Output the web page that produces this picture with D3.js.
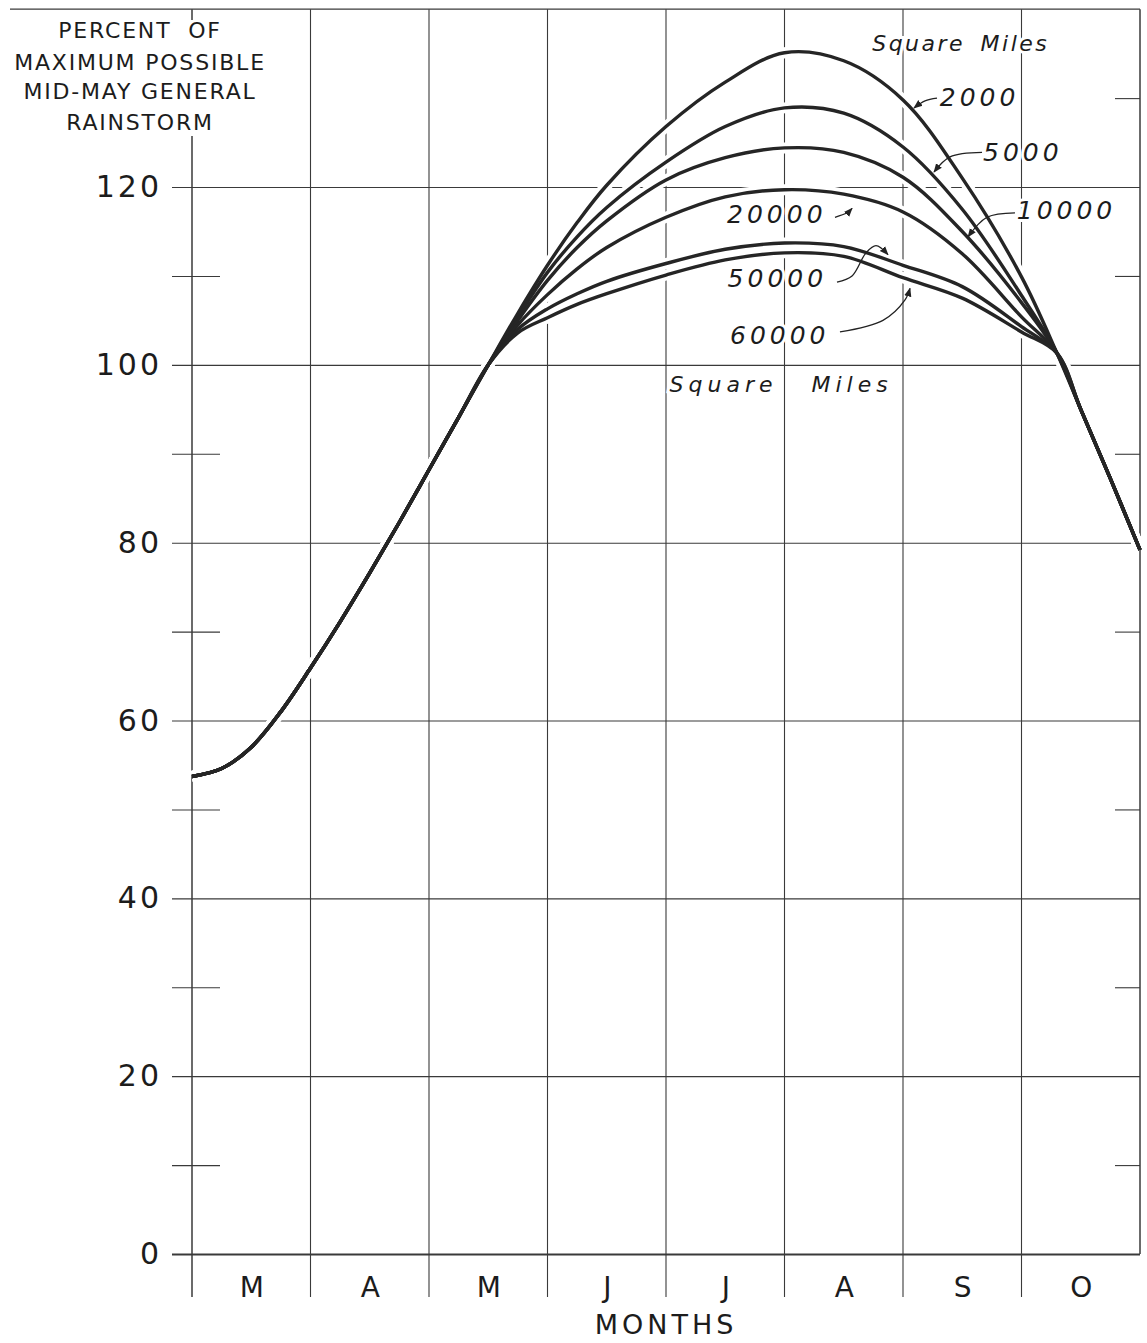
<!DOCTYPE html>
<html>
<head>
<meta charset="utf-8">
<script src="https://cdn.jsdelivr.net/npm/d3@7"></script>
<style>
  body { margin: 0; background: #fff; }
  svg text { font-family: "DejaVu Sans", sans-serif; fill: #1c1c1c; }
</style>
</head>
<body>
<div id="chart"></div>
<script>
// month letters, x position is months counted from 1 March
const months = ["M", "A", "M", "J", "J", "A", "S", "O"];
const yTicks = [0, 20, 40, 60, 80, 100, 120];
const yMinor = [10, 30, 50, 70, 90, 110, 130];

// rising limb common to every area
const riseX = [0, 0.25, 0.5, 0.75, 1, 1.25, 1.5, 1.75, 2, 2.25];
const riseY = [53.7, 54.6, 57.0, 61.0, 65.9, 71.1, 76.6, 82.3, 88.2, 94.1];

// part where the area curves separate
const splitX = [2.5, 2.75, 3, 3.25, 3.5, 4, 4.5, 5, 5.5, 6, 6.5, 7, 7.3];
const areas = ["2000", "5000", "10000", "20000", "50000", "60000"];
const pct2000  = [100, 105.8, 111.2, 116.0, 120.2, 126.8, 131.8, 135.1, 134.2, 129.8, 121.0, 109.9, 101.3];
const pct5000  = [100, 105.4, 110.4, 114.4, 117.7, 122.8, 126.8, 128.9, 128.3, 124.5, 117.5, 107.8, 101.3];
const pct10000 = [100, 105.0, 109.5, 113.2, 116.2, 120.8, 123.3, 124.4, 123.9, 121.1, 115.0, 107.0, 101.3];
const pct20000 = [100, 104.5, 107.9, 110.8, 113.2, 116.6, 118.9, 119.7, 119.2, 117.2, 112.5, 105.4, 101.3];
const pct50000 = [100, 104.0, 106.3, 108.0, 109.4, 111.4, 113.0, 113.7, 113.3, 111.2, 108.8, 104.3, 101.3];
const pct60000 = [100, 103.6, 105.3, 106.8, 108.0, 110.1, 111.8, 112.6, 112.2, 109.8, 107.5, 103.7, 101.3];

// falling limb common to every area
const fallX = [7.5, 7.75, 8];
const fallY = [95.0, 87.2, 79.2];

// curve labels (month, percent) and their leader arrows
const labelAt = {
  "2000":  [6.31, 129.1], "5000": [6.675, 122.95], "10000": [6.96, 116.4],
  "20000": [4.515, 115.9], "50000": [4.52, 108.8], "60000": [4.54, 102.4]
};
const arrows = [
  [[6.287, 130.0], [6.186, 129.7], [6.093, 128.9]],
  [[6.667, 123.9], [6.397, 123.4], [6.262, 121.7]],
  [[6.945, 117.1], [6.709, 116.6], [6.549, 114.4]],
  [[5.426, 116.6], [5.527, 117.1], [5.570, 117.6]],
  [[5.443, 109.3], [5.570, 110.0], [5.688, 112.6], [5.772, 113.4], [5.873, 112.4]],
  [[5.468, 103.7], [5.831, 105.0], [6.017, 107.3], [6.059, 108.6]]
];
const unitTop = [5.74, 135.3];
const unitBottom = [4.03, 97.0];

const seriesValues = [pct2000, pct5000, pct10000, pct20000, pct50000, pct60000];

const width = 1147, height = 1343;
const x = d3.scaleLinear().domain([0, 8]).range([192, 1140]);
const y = d3.scaleLinear().domain([0, 140]).range([1254, 9.2]);

const svg = d3.select("#chart").append("svg")
  .attr("width", width)
  .attr("height", height)
  .attr("viewBox", [0, 0, width, height]);

const gridColor = "#3a3a3a";

// horizontal grid + tick labels
const yAxis = svg.append("g")
  .attr("transform", `translate(${x(8)},0)`)
  .call(d3.axisLeft(y).tickValues(yTicks).tickSize(x(8) - x(0) + 20).tickPadding(10))
  .call(g => g.select(".domain").remove());
yAxis.selectAll("line").attr("stroke", gridColor).attr("stroke-width", d => d === 0 ? 2 : 1.1);
yAxis.selectAll("text")
  .attr("font-size", 30)
  .attr("font-family", "DejaVu Sans")
  .attr("letter-spacing", 3)
  .attr("fill", "#1c1c1c");

// minor ticks at the ten-percent marks, both edges
svg.append("g")
  .attr("transform", `translate(${x(0) + 28},0)`)
  .call(d3.axisLeft(y).tickValues(yMinor).tickSize(48).tickFormat(""))
  .call(g => g.select(".domain").remove())
  .selectAll("line").attr("stroke", gridColor).attr("stroke-width", 1.1);
svg.append("g")
  .attr("transform", `translate(${x(8)},0)`)
  .call(d3.axisLeft(y).tickValues(yMinor).tickSize(25).tickFormat(""))
  .call(g => g.select(".domain").remove())
  .selectAll("line").attr("stroke", gridColor).attr("stroke-width", 1.1);

// top border
svg.append("line")
  .attr("x1", 10).attr("x2", x(8))
  .attr("y1", y(140)).attr("y2", y(140))
  .attr("stroke", gridColor).attr("stroke-width", 1.3);

// vertical month dividers
svg.append("g").selectAll("line")
  .data(d3.range(9))
  .join("line")
  .attr("x1", d => x(d)).attr("x2", d => x(d))
  .attr("y1", y(140))
  .attr("y2", d => d === 8 ? y(0) : y(0) + 43)
  .attr("stroke", gridColor)
  .attr("stroke-width", d => d === 0 || d === 8 ? 1.5 : 1.1);

// month letters
const xAxis = svg.append("g")
  .attr("transform", `translate(0,${y(0)})`)
  .call(d3.axisBottom(x).tickValues(d3.range(8).map(i => i + 0.5))
    .tickSize(0).tickPadding(23).tickFormat((d, i) => months[i]))
  .call(g => g.select(".domain").remove());
xAxis.selectAll("text")
  .attr("font-size", 28)
  .attr("font-family", "DejaVu Sans")
  .attr("fill", "#1c1c1c");

svg.append("text")
  .attr("x", x(4)).attr("y", 1334)
  .attr("text-anchor", "middle")
  .attr("font-size", 27)
  .attr("letter-spacing", 4)
  .text("MONTHS");

// title block, blanks the axis line behind it
svg.append("rect")
  .attr("x", 0).attr("y", 20).attr("width", 285).attr("height", 116)
  .attr("fill", "#fff");
const titleLines = ["PERCENT OF", "MAXIMUM POSSIBLE", "MID-MAY GENERAL", "RAINSTORM"];
svg.append("g").selectAll("text")
  .data(titleLines)
  .join("text")
  .attr("x", 140)
  .attr("y", (d, i) => [38, 70, 99, 130][i])
  .attr("text-anchor", "middle")
  .attr("font-size", 22)
  .attr("letter-spacing", 1.8)
  .attr("word-spacing", (d, i) => i === 0 ? 8 : 0)
  .text(d => d);

// curves
const line = d3.line()
  .x(d => x(d[0]))
  .y(d => y(d[1]))
  .curve(d3.curveCatmullRom.alpha(0.5));

const curves = seriesValues.map(vals =>
  riseX.map((d, i) => [d, riseY[i]])
    .concat(splitX.map((d, i) => [d, vals[i]]))
    .concat(fallX.map((d, i) => [d, fallY[i]]))
);

svg.append("g").selectAll("path")
  .data(curves)
  .join("path")
  .attr("d", line)
  .attr("fill", "none")
  .attr("stroke", "#fff")
  .attr("stroke-width", 11);

svg.append("g").selectAll("path")
  .data(curves)
  .join("path")
  .attr("d", line)
  .attr("fill", "none")
  .attr("stroke", "#252525")
  .attr("stroke-width", 3.4)
  .attr("stroke-linejoin", "round");

// arrows
svg.append("defs").append("marker")
  .attr("id", "head")
  .attr("viewBox", "0 0 10 10")
  .attr("refX", 9).attr("refY", 5)
  .attr("markerWidth", 9).attr("markerHeight", 9)
  .attr("markerUnits", "userSpaceOnUse")
  .attr("orient", "auto")
  .append("path")
  .attr("d", "M0,1 L10,5 L0,9 z")
  .attr("fill", "#222");

const arrowLine = d3.line()
  .x(d => x(d[0]))
  .y(d => y(d[1]))
  .curve(d3.curveCatmullRom);

svg.append("g").selectAll("path")
  .data(arrows)
  .join("path")
  .attr("d", arrowLine)
  .attr("fill", "none")
  .attr("stroke", "#222")
  .attr("stroke-width", 1.3)
  .attr("marker-end", "url(#head)");

// area labels
svg.append("g").selectAll("text")
  .data(areas)
  .join("text")
  .attr("x", d => x(labelAt[d][0]))
  .attr("y", d => y(labelAt[d][1]))
  .attr("font-size", 25)
  .attr("font-style", "italic")
  .attr("letter-spacing", 4)
  .attr("stroke", "#fff")
  .attr("stroke-width", 6)
  .attr("paint-order", "stroke")
  .text(d => d);

svg.append("text")
  .attr("x", x(unitTop[0])).attr("y", y(unitTop[1]))
  .attr("font-size", 22)
  .attr("font-style", "italic")
  .attr("letter-spacing", 2.5)
  .attr("word-spacing", 6)
  .attr("stroke", "#fff").attr("stroke-width", 6).attr("paint-order", "stroke")
  .text("Square Miles");

svg.append("text")
  .attr("x", x(unitBottom[0])).attr("y", y(unitBottom[1]))
  .attr("font-size", 22)
  .attr("font-style", "italic")
  .attr("letter-spacing", 5)
  .attr("word-spacing", 22)
  .attr("stroke", "#fff").attr("stroke-width", 6).attr("paint-order", "stroke")
  .text("Square Miles");
</script>
</body>
</html>
